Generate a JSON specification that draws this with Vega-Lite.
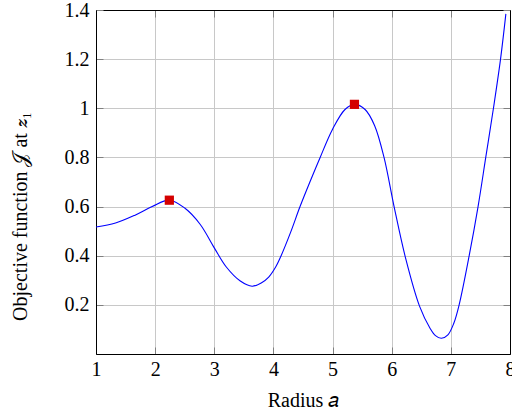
{
  "$schema": "https://vega.github.io/schema/vega-lite/v6.json",
  "width": 414,
  "height": 344,
  "autosize": "none",
  "padding": {"left": 96, "top": 10, "right": 2, "bottom": 61},
  "background": "white",
  "config": {
    "font": "Liberation Serif",
    "axis": {"labelFont": "Liberation Serif", "titleFont": "Liberation Serif"},
    "view": {"stroke": "black", "strokeWidth": 1}
  },
  "datasets": {
    "curve": [
      {"a": 1.00, "J": 0.517},
      {"a": 1.33, "J": 0.533},
      {"a": 1.66, "J": 0.565},
      {"a": 1.95, "J": 0.600},
      {"a": 2.24, "J": 0.626},
      {"a": 2.50, "J": 0.594},
      {"a": 2.76, "J": 0.528},
      {"a": 3.00, "J": 0.432},
      {"a": 3.20, "J": 0.355},
      {"a": 3.44, "J": 0.297},
      {"a": 3.64, "J": 0.276},
      {"a": 3.80, "J": 0.290},
      {"a": 3.92, "J": 0.313},
      {"a": 4.04, "J": 0.355},
      {"a": 4.13, "J": 0.400},
      {"a": 4.29, "J": 0.495},
      {"a": 4.45, "J": 0.600},
      {"a": 4.62, "J": 0.702},
      {"a": 4.79, "J": 0.800},
      {"a": 5.00, "J": 0.915},
      {"a": 5.21, "J": 0.995},
      {"a": 5.37, "J": 1.016},
      {"a": 5.55, "J": 0.995},
      {"a": 5.71, "J": 0.930},
      {"a": 5.87, "J": 0.800},
      {"a": 6.04, "J": 0.600},
      {"a": 6.24, "J": 0.385},
      {"a": 6.47, "J": 0.195},
      {"a": 6.65, "J": 0.104},
      {"a": 6.74, "J": 0.075},
      {"a": 6.84, "J": 0.064},
      {"a": 6.95, "J": 0.078},
      {"a": 7.05, "J": 0.125},
      {"a": 7.14, "J": 0.200},
      {"a": 7.31, "J": 0.400},
      {"a": 7.46, "J": 0.600},
      {"a": 7.59, "J": 0.800},
      {"a": 7.72, "J": 1.000},
      {"a": 7.84, "J": 1.200},
      {"a": 7.93, "J": 1.384}
    ],
    "peaks": [
      {"a": 2.24, "J": 0.626},
      {"a": 5.37, "J": 1.016}
    ]
  },
  "layer": [
    {
      "data": {"name": "curve"},
      "mark": {"type": "line", "color": "#0000ff", "strokeWidth": 1.1, "interpolate": "catmull-rom"},
      "encoding": {
        "x": {
          "field": "a", "type": "quantitative",
          "scale": {"domain": [1, 8], "nice": false, "zero": false},
          "axis": {
            "orient": "bottom",
            "values": [1, 2, 3, 4, 5, 6, 7, 8],
            "format": "~f",
            "labelFlush": false, "labelOverlap": false, "labelBound": false,
            "grid": true, "gridColor": "#c8c8c8", "gridWidth": 1,
            "domain": true, "domainColor": "black", "domainWidth": 1,
            "ticks": true, "tickSize": -7, "tickColor": "#808080", "tickWidth": 1,
            "labelPadding": 12,
            "labelFontSize": 20, "labelColor": "black",
            "title": "Radius 𝑎",
            "titleFontSize": 20, "titleFontWeight": "normal", "titleColor": "black",
            "titleX": 207, "titleY": 46, "titleBaseline": "middle", "titleAlign": "center"
          }
        },
        "y": {
          "field": "J", "type": "quantitative",
          "scale": {"domain": [0, 1.4], "nice": false},
          "axis": {
            "orient": "left",
            "values": [0.2, 0.4, 0.6, 0.8, 1, 1.2, 1.4],
            "format": "~f",
            "labelFlush": false, "labelOverlap": false, "labelBound": false,
            "grid": true, "gridColor": "#c8c8c8", "gridWidth": 1,
            "domain": true, "domainColor": "black", "domainWidth": 1,
            "ticks": true, "tickSize": -7, "tickColor": "#808080", "tickWidth": 1,
            "labelPadding": 14,
            "labelFontSize": 20, "labelColor": "black",
            "title": "Objective function 𝒥 at 𝒛₁",
            "titleFontSize": 20, "titleFontWeight": "normal", "titleColor": "black",
            "titleX": -76, "titleY": 206, "titleBaseline": "middle", "titleAlign": "center", "titleAngle": 270
          }
        }
      }
    },
    {
      "data": {"name": "peaks"},
      "mark": {"type": "point", "shape": "square", "filled": true, "size": 85, "color": "#d40000", "opacity": 1},
      "encoding": {
        "x": {
          "field": "a", "type": "quantitative",
          "axis": {
            "orient": "top", "values": [1, 2, 3, 4, 5, 6, 7, 8],
            "labels": false, "grid": false, "title": null,
            "domain": true, "domainColor": "black",
            "ticks": true, "tickSize": -7, "tickColor": "#808080"
          }
        },
        "y": {
          "field": "J", "type": "quantitative",
          "axis": {
            "orient": "right", "values": [0.2, 0.4, 0.6, 0.8, 1, 1.2, 1.4],
            "labels": false, "grid": false, "title": null,
            "domain": true, "domainColor": "black",
            "ticks": true, "tickSize": -7, "tickColor": "#808080"
          }
        }
      }
    }
  ]
}
